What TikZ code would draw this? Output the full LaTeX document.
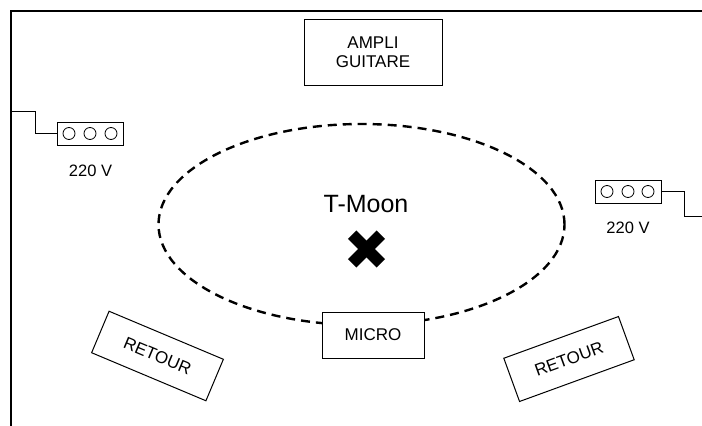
\documentclass[tikz,border=0pt]{standalone}
\usepackage{fontspec}
\setmainfont{Liberation Sans}
\usetikzlibrary{shapes.geometric}
\begin{document}
\begin{tikzpicture}[x=1pt,y=-1pt,
  box/.style={draw,line width=1pt,fill=white,inner sep=0pt,align=center,font=\fontsize{17}{19}\selectfont},
  sock/.style={draw,line width=1pt,minimum width=66pt,minimum height=23pt,inner sep=0pt},
  hole/.style={line width=0.8pt},
  wire/.style={line width=1pt},
  lbl/.style={font=\fontsize{16.5}{19}\selectfont,inner sep=0pt}]
\useasboundingbox (0,0) rectangle (702,426);
% frame
\draw[line width=2.2pt] (11,426) -- (11,11) -- (702,11);
% stage
\node[ellipse,draw,dash pattern=on 9pt off 6pt,line width=2.4pt,minimum width=406pt,minimum height=201pt,inner sep=0pt] (stage) at (361.5,224.5) {};
\node[font=\fontsize{25}{28}\selectfont,inner sep=0pt] (tmoon) at (366,204) {T-Moon};
% cross
\begin{scope}[line width=12pt]
\draw (352.2,234.7) -- (380.8,263.3);
\draw (352.2,263.3) -- (380.8,234.7);
\end{scope}
% amp
\node[box,minimum width=138pt,minimum height=66pt] (ampli) at (373,52) {AMPLI\\GUITARE};
% micro
\node[box,minimum width=102pt,minimum height=46pt] (micro) at (373,335) {MICRO};
% retours
\node[box,minimum width=124pt,minimum height=45pt,rotate=-22.8] (retL) at (157.5,356) {RETOUR};
\node[box,minimum width=122pt,minimum height=46pt,rotate=20] (retR) at (569,359) {RETOUR};
% sockets
\node[sock] (sockL) at (90,133.5) {};
\foreach \dx in {-21,0,21} \draw[hole] (sockL.center) ++(\dx,0) circle[radius=6pt];
\node[sock] (sockR) at (628,191.5) {};
\foreach \dx in {-21,0,20} \draw[hole] (sockR.center) ++(\dx,0) circle[radius=6pt];
\coordinate (lw) at (11,111);
\coordinate (rw) at (702,216);
\draw[wire] (lw) -- (35,111) |- (sockL.west);
\draw[wire] (sockR.east) -- (684,191.5) |- (rw);
\node[lbl] (vL) at (90.5,171) {220 V};
\node[lbl] (vR) at (628,228) {220 V};
\end{tikzpicture}
\end{document}
